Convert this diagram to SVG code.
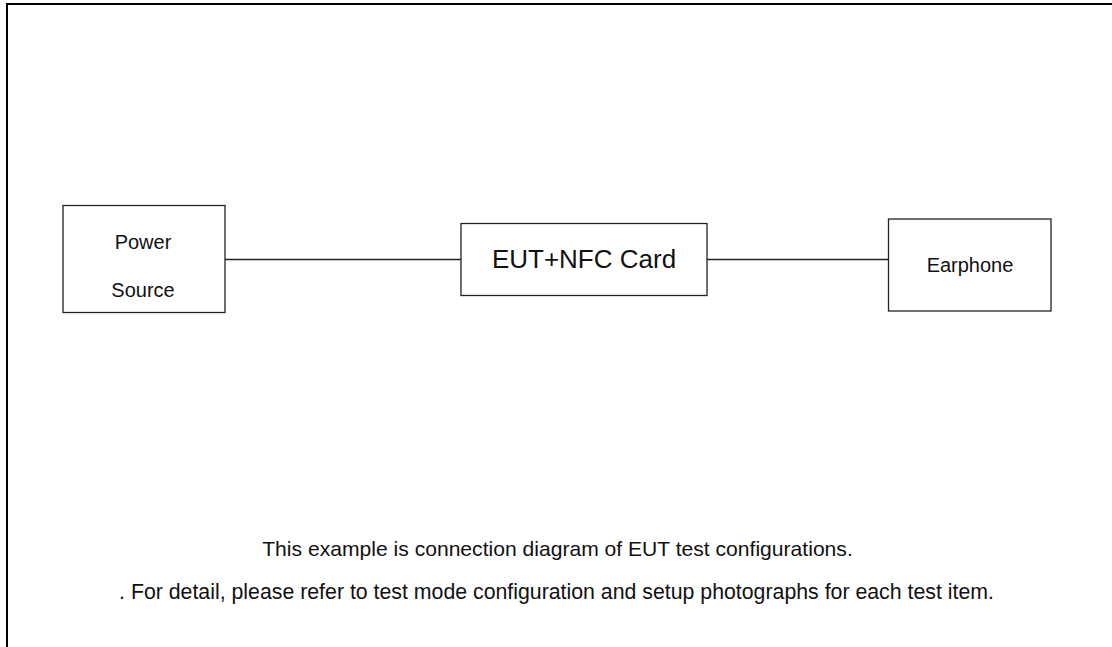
<svg xmlns="http://www.w3.org/2000/svg" width="1112" height="647" viewBox="0 0 1112 647">
<style>
.box{fill:#fff;stroke:#222;stroke-width:1.3}
.t{font-family:"Liberation Sans",Arial,sans-serif;fill:#111;text-anchor:middle}
.c{stroke:#222;stroke-width:1.3;fill:none}
</style>
<rect width="1112" height="647" fill="#fff"/>
<path d="M7,647 V4 H1112" fill="none" stroke="#000" stroke-width="2"/>
<g id="connectors">
<line class="c" x1="225" y1="259.5" x2="461" y2="259.5"/>
<line class="c" x1="707" y1="259.5" x2="888.5" y2="259.5"/>
</g>
<g id="power-source">
<rect class="box" x="63" y="205.5" width="162" height="107"/>
<text class="t" x="143" y="248.5" font-size="20">Power</text>
<text class="t" x="143" y="297" font-size="20">Source</text>
</g>
<g id="eut">
<rect class="box" x="461" y="223.5" width="246" height="72"/>
<text class="t" x="584" y="267.5" font-size="26">EUT+NFC Card</text>
</g>
<g id="earphone">
<rect class="box" x="888.5" y="219" width="162.5" height="92"/>
<text class="t" x="970" y="271.5" font-size="20">Earphone</text>
</g>
<g id="notes">
<text class="t" x="557.5" y="556" font-size="21.1">This example is connection diagram of EUT test configurations.</text>
<text class="t" x="556.5" y="599" font-size="21.3">. For detail, please refer to test mode configuration and setup photographs for each test item.</text>
</g>
</svg>
